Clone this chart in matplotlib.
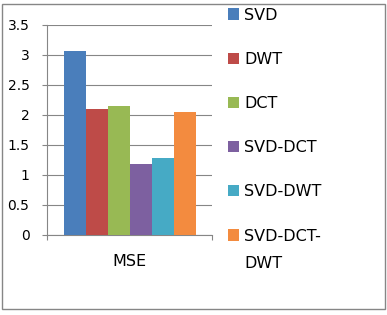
import matplotlib.pyplot as plt
import numpy as np
from matplotlib.patches import Rectangle

methods = ['SVD', 'DWT', 'DCT', 'SVD-DCT', 'SVD-DWT', 'SVD-DCT-DWT']
mse = [3.06, 2.1, 2.15, 1.18, 1.29, 2.05]
colors = ['#4A7EBB', '#BE4B48', '#98B954', '#7D60A0', '#46AAC5', '#F38B3F']
category = ['MSE']
yticks = [0, 0.5, 1, 1.5, 2, 2.5, 3, 3.5]

W, H = 387, 315
fig = plt.figure(figsize=(W / 100, H / 100), dpi=100)
ax = fig.add_axes([47 / W, (H - 235) / H, 165 / W, 210 / H])

grey = '#868686'
n = len(methods)
w = 0.8 / n
for i in range(n):
    ax.bar(-0.4 + w * (i + 0.5), mse[i], width=w, color=colors[i],
           label=methods[i], zorder=3)

ax.set_xlim(-0.5, 0.5)
ax.set_ylim(0, 3.5)
ax.set_yticks(yticks)
ax.set_yticklabels(['%g' % t for t in yticks], fontsize=10)
ax.set_xticks([0])
ax.set_xticklabels(category, fontsize=11.5)
ax.set_xticks([-0.5, 0.5], minor=True)
ax.tick_params(axis='x', which='major', length=0, pad=14)
ax.tick_params(axis='x', which='minor', length=3.6, color=grey, width=0.8)
ax.tick_params(axis='y', length=3.6, color=grey, width=0.8, pad=9)
ax.yaxis.grid(True, color=grey, linewidth=0.8, zorder=0)
for s in ['top', 'right']:
    ax.spines[s].set_visible(False)
for s in ['left', 'bottom']:
    ax.spines[s].set_color(grey)
    ax.spines[s].set_linewidth(0.8)

labels = methods[:-1] + ['SVD-DCT-']
handles = ax.patches[:n]
leg = fig.legend(handles, labels, loc='upper left',
                 bbox_to_anchor=(228 / W, 1 - 7.5 / H), frameon=False,
                 fontsize=11.5, borderpad=0, borderaxespad=0,
                 handlelength=0.7, handleheight=0.7, handletextpad=0.3,
                 labelspacing=1.83)

fig.canvas.draw()
bb = leg.texts[-1].get_window_extent()
fig.text(bb.x0 / W, (bb.y0 - 27) / H, 'DWT', fontsize=11.5,
         ha='left', va='bottom')

fig.patches.append(Rectangle((2 / W, 6 / H), 383 / W, 305 / H,
                             transform=fig.transFigure, fill=False,
                             edgecolor=grey, linewidth=1.0))

fig.savefig('out.png', dpi=100)
